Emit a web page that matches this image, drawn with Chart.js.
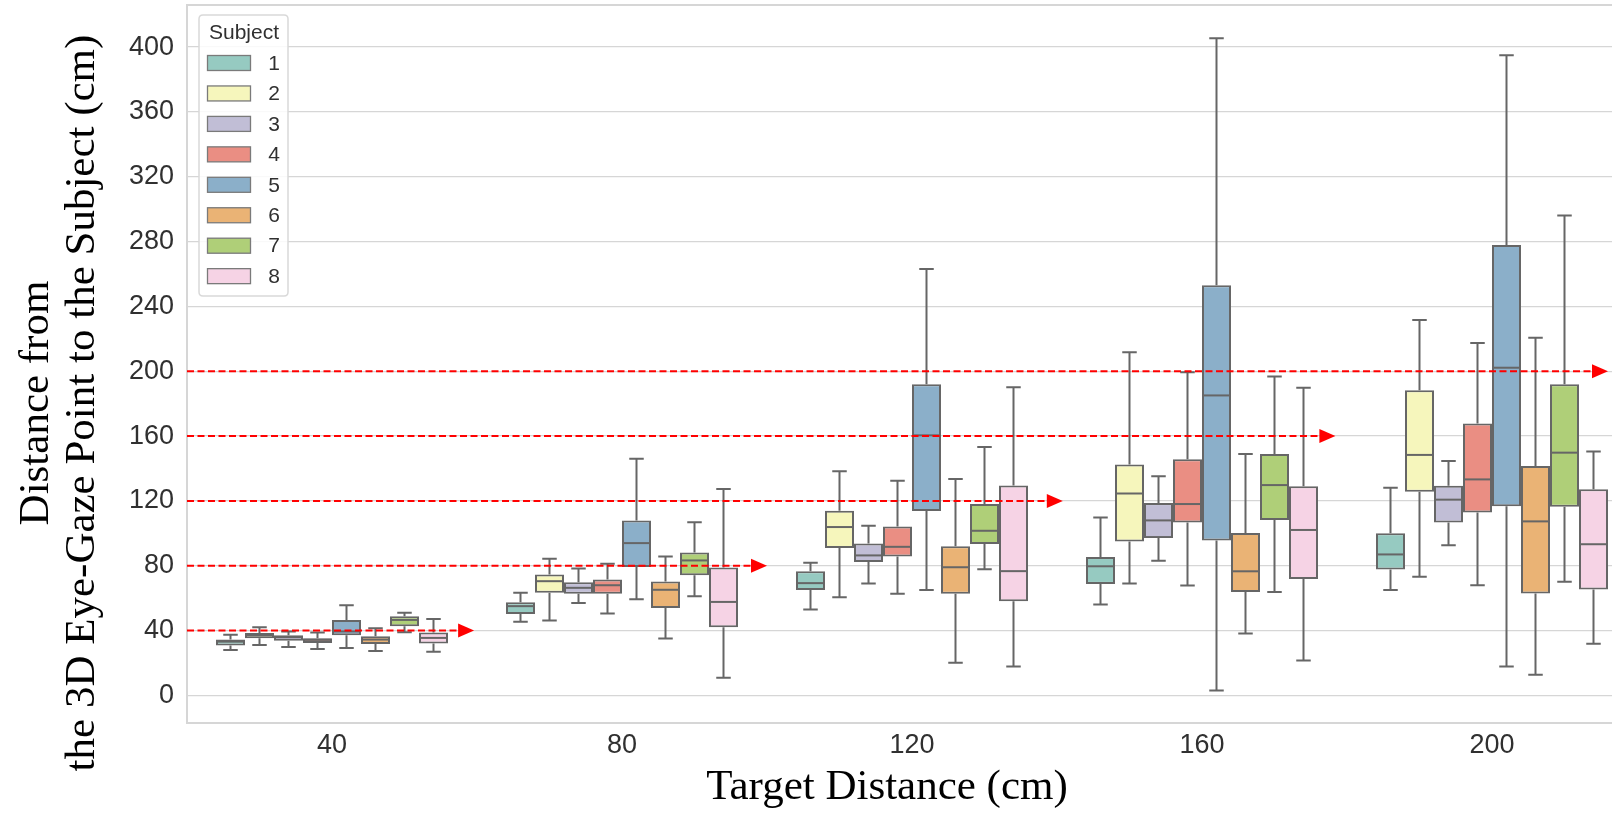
<!DOCTYPE html>
<html>
<head>
<meta charset="utf-8">
<title>Distance from the 3D Eye-Gaze Point to the Subject</title>
<script src="https://cdn.jsdelivr.net/npm/chart.js@4.4.1/dist/chart.umd.min.js"></script>
<style>
  html, body { margin: 0; padding: 0; background: #ffffff; overflow: hidden; }
  #wrap { position: relative; width: 1650px; height: 814px; }
</style>
</head>
<body>
<div id="wrap"><canvas id="chart"></canvas></div>
<script>
// ---------------- DATA ----------------
const categories = ['40', '80', '120', '160', '200'];      // Target distance (cm)
const subjects   = ['1', '2', '3', '4', '5', '6', '7', '8'];
const yTickValues = [0, 40, 80, 120, 160, 200, 240, 280, 320, 360, 400];
const targetLevels = [40, 80, 120, 160, 200];                // red reference arrows

// rows = subjects 1..8, columns = categories 40..200
const whiskerLow = [
  [28.1, 45.4, 53.0, 56.1, 65.0],
  [31.2, 46.2, 60.6, 69.1, 73.3],
  [29.9, 57.1, 69.0, 83.1, 92.6],
  [28.7, 50.5, 62.7, 67.8, 68.0],
  [29.3, 59.4, 65.1,  3.0, 17.8],
  [27.5, 35.1, 20.2, 38.2, 12.7],
  [39.0, 61.2, 77.9, 63.9, 70.2],
  [26.9, 10.9, 17.8, 21.6, 31.9]
];
const quartile1 = [
  [30.8, 50.3, 65.1, 68.8,  77.7],
  [35.3, 63.3, 90.9, 95.0, 125.7],
  [33.8, 62.7, 82.4, 97.1, 106.7],
  [32.4, 62.7, 85.7, 106.7, 112.8],
  [37.1, 79.2, 113.8, 95.6, 116.7],
  [31.8, 54.0, 62.7, 63.9,  62.9],
  [42.7, 74.2, 93.4, 108.3, 116.4],
  [32.0, 42.1, 58.1, 71.9,  65.3]
];
const medians = [
  [33.2, 55.1, 69.3,  79.7,  87.0],
  [37.1, 70.5, 103.9, 124.6, 148.4],
  [35.9, 66.4, 86.4, 108.0, 120.8],
  [34.3, 68.0, 91.7, 118.1, 133.3],
  [39.5, 94.0, 160.5, 185.1, 202.2],
  [34.5, 65.2, 79.1,  76.6, 107.4],
  [46.6, 83.3, 101.6, 129.8, 149.8],
  [35.5, 57.7, 76.7, 102.1,  93.3]
];
const quartile3 = [
  [34.5, 57.5, 76.7,  85.4, 100.1],
  [38.6, 74.6, 114.0, 142.5, 188.3],
  [37.1, 69.9, 93.8, 118.7, 129.4],
  [35.3, 71.5, 104.3, 145.7, 167.8],
  [46.6, 108.0, 192.0, 253.1, 277.9],
  [36.5, 70.3, 92.1, 100.2, 141.5],
  [48.8, 88.2, 118.1, 149.0, 192.0],
  [38.8, 79.0, 129.6, 129.0, 127.2]
];
const whiskerHigh = [
  [37.5,  63.3,  81.8, 109.8, 128.1],
  [42.1,  84.3, 138.3, 211.8, 231.7],
  [39.4,  78.4, 104.7, 135.3, 144.7],
  [38.8,  81.2, 132.5, 199.4, 217.5],
  [55.6, 146.0, 263.1, 405.5, 395.0],
  [41.4,  85.8, 133.5, 149.0, 220.7],
  [51.1, 106.8, 153.3, 196.8, 296.2],
  [47.2, 127.4, 190.2, 189.8, 150.5]
];

// ---------------- STYLE ----------------
const boxColors = ['#96cac1', '#f6f6bc', '#c1bed6', '#ea8e83', '#8bafc9', '#eab375', '#afcf78', '#f6d3e5'];
const lineGray = '#666666';
const gridGray = '#d6d6d6';
const tickFont = { family: '"Liberation Sans", Arial, sans-serif', size: 27 };
const titleFont = '43px "Liberation Serif", "Times New Roman", serif';
// where each red reference arrow stops, in category-axis units
const arrowStops = [0.49, 1.50, 2.52, 3.46, 4.40];

// ---------------- PLUGINS ----------------
const whiskerPlugin = {
  id: 'whiskers',
  beforeDatasetsDraw(chart) {
    const ctx = chart.ctx, y = chart.scales.y;
    ctx.save();
    ctx.strokeStyle = lineGray;
    ctx.lineWidth = 2;
    ctx.lineCap = 'butt';
    chart.data.datasets.forEach((ds, d) => {
      const meta = chart.getDatasetMeta(d);
      meta.data.forEach((el, i) => {
        const x = el.x, half = el.width / 4;
        const pLo = y.getPixelForValue(whiskerLow[d][i]);
        const pQ1 = y.getPixelForValue(quartile1[d][i]);
        const pQ3 = y.getPixelForValue(quartile3[d][i]);
        const pHi = y.getPixelForValue(whiskerHigh[d][i]);
        ctx.beginPath();
        ctx.moveTo(x, pQ3); ctx.lineTo(x, pHi);
        ctx.moveTo(x - half, pHi); ctx.lineTo(x + half, pHi);
        ctx.moveTo(x, pQ1); ctx.lineTo(x, pLo);
        ctx.moveTo(x - half, pLo); ctx.lineTo(x + half, pLo);
        ctx.stroke();
      });
    });
    ctx.restore();
  },
  afterDatasetsDraw(chart) {
    const ctx = chart.ctx, y = chart.scales.y, xs = chart.scales.x, area = chart.chartArea;
    ctx.save();
    // medians
    ctx.strokeStyle = lineGray;
    ctx.lineWidth = 2;
    chart.data.datasets.forEach((ds, d) => {
      const meta = chart.getDatasetMeta(d);
      meta.data.forEach((el, i) => {
        const p = y.getPixelForValue(medians[d][i]);
        ctx.beginPath();
        ctx.moveTo(el.x - el.width / 2 + 1, p);
        ctx.lineTo(el.x + el.width / 2 - 1, p);
        ctx.stroke();
      });
    });
    // red dashed reference arrows
    targetLevels.forEach((lv, k) => {
      const py = y.getPixelForValue(lv);
      const tip = xs.getPixelForValue(arrowStops[k]);
      const headLen = 16, headHalf = 7;
      ctx.strokeStyle = '#ff0000';
      ctx.fillStyle = '#ff0000';
      ctx.lineWidth = 2;
      ctx.setLineDash([7, 3.5]);
      ctx.beginPath();
      ctx.moveTo(area.left, py);
      ctx.lineTo(tip - headLen, py);
      ctx.stroke();
      ctx.setLineDash([]);
      ctx.beginPath();
      ctx.moveTo(tip, py);
      ctx.lineTo(tip - headLen, py - headHalf);
      ctx.lineTo(tip - headLen, py + headHalf);
      ctx.closePath();
      ctx.fill();
    });
    ctx.restore();
  },
  afterDraw(chart) {
    const ctx = chart.ctx, area = chart.chartArea;
    ctx.save();
    // top spine
    ctx.strokeStyle = gridGray;
    ctx.lineWidth = 2;
    ctx.beginPath();
    ctx.moveTo(area.left - 1, area.top);
    ctx.lineTo(area.right, area.top);
    ctx.stroke();

    // axis titles
    ctx.fillStyle = '#000000';
    ctx.font = titleFont;
    ctx.textAlign = 'center';
    ctx.textBaseline = 'alphabetic';
    ctx.fillText('Target Distance (cm)', 887, 799);
    ctx.save();
    ctx.translate(48, 403);
    ctx.rotate(-Math.PI / 2);
    ctx.fillText('Distance from', 0, 0);
    ctx.restore();
    ctx.save();
    ctx.translate(94, 403);
    ctx.rotate(-Math.PI / 2);
    ctx.fillText('the 3D Eye-Gaze Point to the Subject (cm)', 0, 0);
    ctx.restore();

    // legend (inside plot, upper left)
    const lx = 199, ly = 15, lw = 89, lh = 281, r = 4;
    ctx.fillStyle = 'rgba(255,255,255,0.85)';
    ctx.strokeStyle = '#d9d9d9';
    ctx.lineWidth = 1.5;
    ctx.beginPath();
    ctx.moveTo(lx + r, ly);
    ctx.lineTo(lx + lw - r, ly); ctx.quadraticCurveTo(lx + lw, ly, lx + lw, ly + r);
    ctx.lineTo(lx + lw, ly + lh - r); ctx.quadraticCurveTo(lx + lw, ly + lh, lx + lw - r, ly + lh);
    ctx.lineTo(lx + r, ly + lh); ctx.quadraticCurveTo(lx, ly + lh, lx, ly + lh - r);
    ctx.lineTo(lx, ly + r); ctx.quadraticCurveTo(lx, ly, lx + r, ly);
    ctx.closePath();
    ctx.fill();
    ctx.stroke();
    ctx.fillStyle = '#303030';
    ctx.font = '21px "Liberation Sans", Arial, sans-serif';
    ctx.textAlign = 'center';
    ctx.textBaseline = 'middle';
    ctx.fillText('Subject', 244, 33);
    subjects.forEach((s, i) => {
      const cy = 63 + i * 30.45;
      ctx.fillStyle = boxColors[i];
      ctx.fillRect(207.5, cy - 7.5, 43, 15);
      ctx.strokeStyle = '#7a7a7a';
      ctx.lineWidth = 1.3;
      ctx.strokeRect(207.5, cy - 7.5, 43, 15);
      ctx.fillStyle = '#303030';
      ctx.fillText(s, 274, cy + 1);
    });
    ctx.restore();
  }
};

// ---------------- CHART ----------------
const datasets = subjects.map((s, d) => ({
  label: s,
  data: categories.map((c, i) => [quartile1[d][i], quartile3[d][i]]),
  backgroundColor: boxColors[d],
  borderColor: lineGray,
  borderWidth: 2,
  borderSkipped: false,
  categoryPercentage: 0.8,
  barPercentage: 1.0
}));

new Chart(document.getElementById('chart'), {
  type: 'bar',
  data: { labels: categories, datasets },
  options: {
    responsive: true,
    maintainAspectRatio: false,
    animation: false,
    devicePixelRatio: 1,
    layout: { padding: { left: 0, right: 13, top: 5, bottom: 0 } },
    plugins: { legend: { display: false }, tooltip: { enabled: false } },
    scales: {
      x: {
        type: 'category',
        offset: true,
        grid: { display: false, drawTicks: false },
        border: { display: true, color: gridGray, width: 2 },
        ticks: { font: tickFont, color: '#303030', padding: 6, maxRotation: 0 },
        afterFit(scale) {
          scale.height = 91;
          scale.paddingLeft = 0; scale.paddingRight = 0;
        }
      },
      y: {
        type: 'linear',
        min: -17,
        max: 426,
        grid: { color: gridGray, lineWidth: 1.3, drawTicks: false },
        border: { display: true, color: gridGray, width: 2 },
        ticks: { font: tickFont, color: '#303030', padding: 13 },
        afterBuildTicks(scale) { scale.ticks = yTickValues.map(v => ({ value: v })); },
        afterFit(scale) {
          scale.width = 187;
          scale.paddingTop = 0; scale.paddingBottom = 0;
        }
      }
    }
  },
  plugins: [whiskerPlugin]
});
</script>
</body>
</html>
